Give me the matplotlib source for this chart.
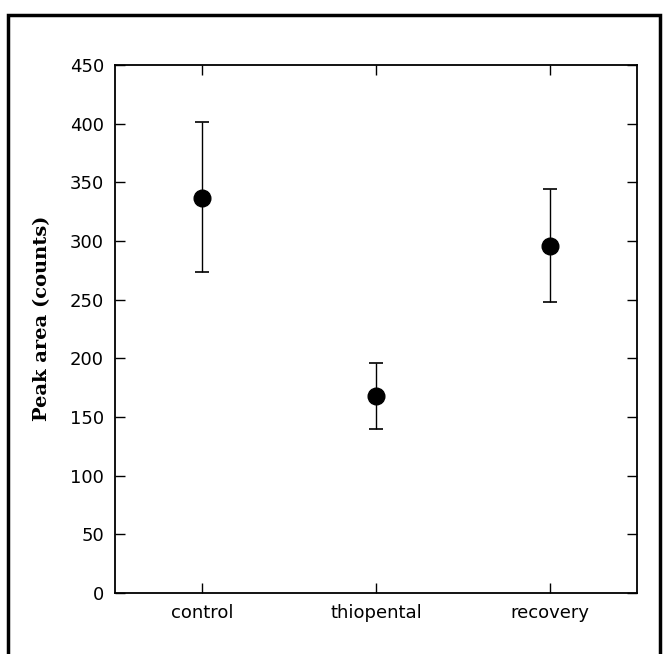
import numpy as np
from matplotlib import pyplot as plt
from matplotlib.patches import Rectangle

# data
groups = ['control', 'thiopental', 'recovery']
peak_mean = [337, 168, 296]
err_low = [274, 140, 248]
err_high = [401, 196, 344]
yticks = [0, 50, 100, 150, 200, 250, 300, 350, 400, 450]


def plot():
  fig = plt.figure(figsize=(6.63, 6.54), dpi=100)
  ax = fig.add_axes([0.1735, 0.0933, 0.7875, 0.8073])

  x = np.arange(len(groups)) + 0.5
  mean = np.array(peak_mean)
  yerr = [mean - np.array(err_low), np.array(err_high) - mean]
  ax.errorbar(x, mean, yerr=yerr, fmt='o', color='black', ms=12,
              elinewidth=1.0, capsize=5, capthick=1.2)

  ax.set_xlim(0, 3)
  ax.set_ylim(0, 450)
  ax.set_xticks(x)
  ax.set_xticklabels(groups)
  ax.set_yticks(yticks)
  ax.tick_params(direction='in', length=7, width=1, top=True, right=True,
                 labelsize=13, pad=8)
  for s in ax.spines.values():
    s.set_linewidth(1.3)
  ax.set_ylabel('Peak area (counts)', family='DejaVu Serif',
                fontweight='bold', fontsize=14)
  # label sits a little above the axes centre in the original
  ax.yaxis.set_label_coords(-0.122, 0.52)

  # outer frame around the figure
  fig.patches.append(Rectangle((8 / 663, -0.05), 652 / 663, 1.05 - 15 / 654,
                               transform=fig.transFigure, fill=False,
                               edgecolor='black', linewidth=2.5))

  fig.savefig('out.png', dpi=100)


if __name__ == '__main__':
  plot()
